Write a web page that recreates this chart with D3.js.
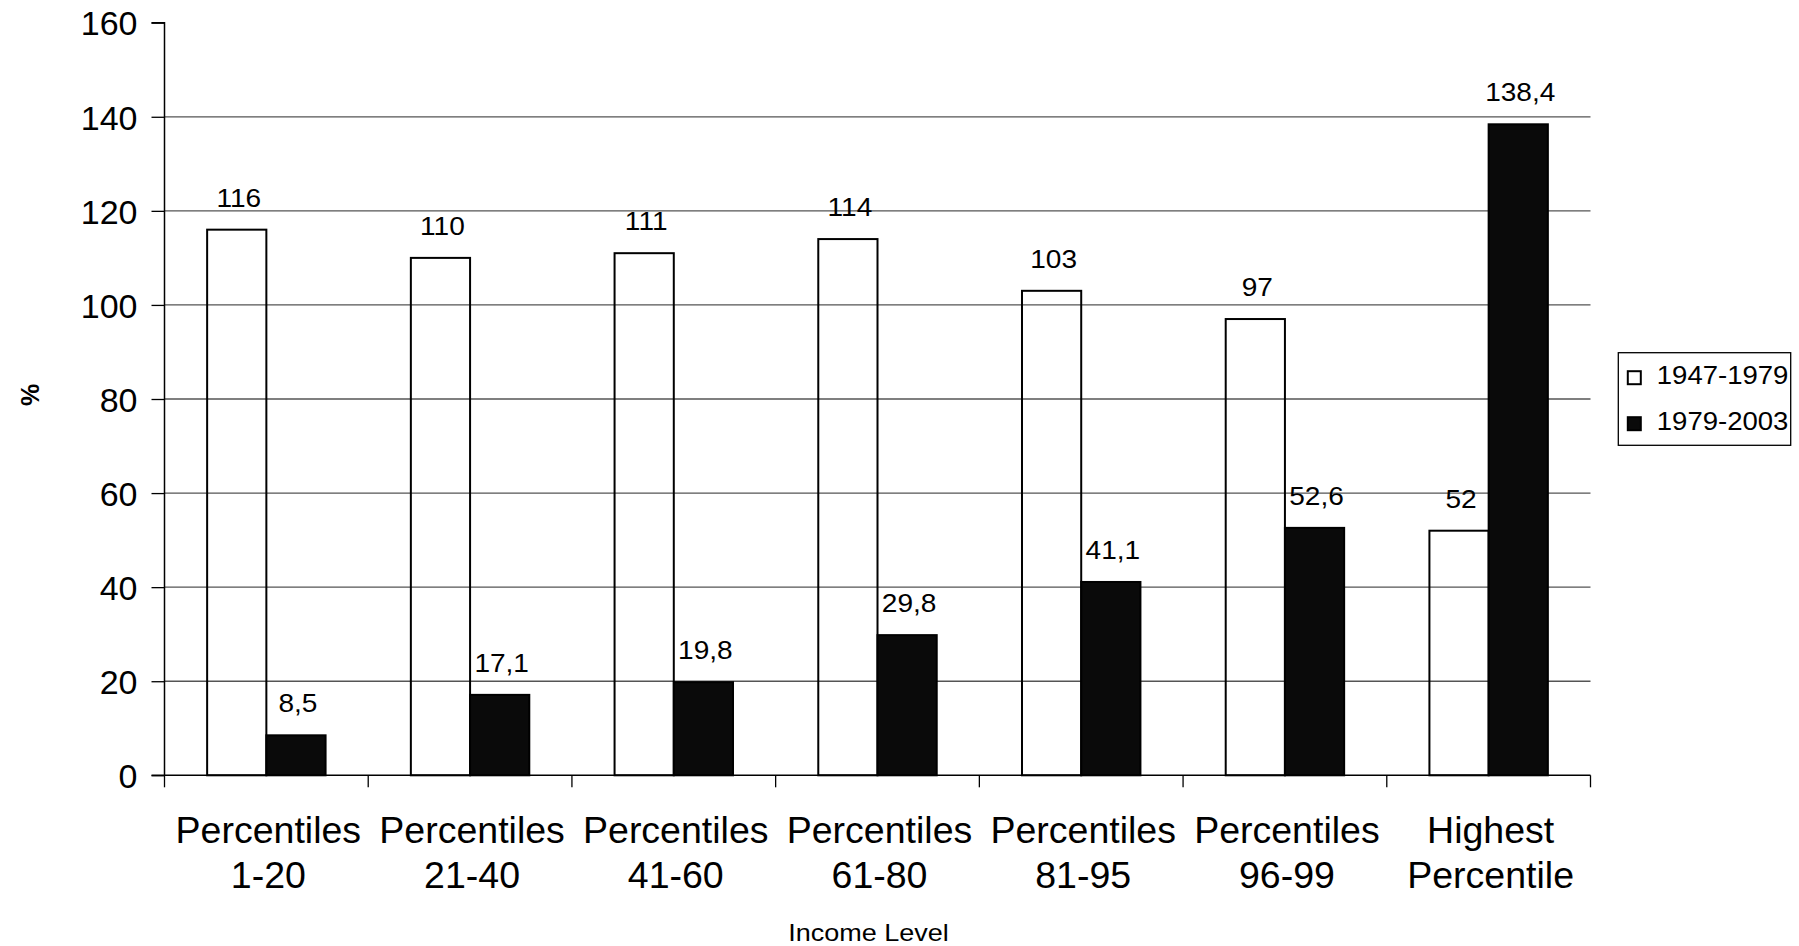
<!DOCTYPE html>
<html><head><meta charset="utf-8">
<script src="https://cdn.jsdelivr.net/npm/d3@7"></script>
<style>
html,body{margin:0;padding:0;background:#fff;}
svg{display:block;font-family:"Liberation Sans",Arial,sans-serif;}
</style></head>
<body><svg id="c" width="1799" height="946"></svg>
<script>
const categories = [["Percentiles","1-20"],["Percentiles","21-40"],["Percentiles","41-60"],["Percentiles","61-80"],["Percentiles","81-95"],["Percentiles","96-99"],["Highest","Percentile"]];
const seriesNames = ["1947-1979","1979-2003"];
const values1947 = [116,110,111,114,103,97,52];
const values1979 = [8.5,17.1,19.8,29.8,41.1,52.6,138.4];
const yTicks = [0,20,40,60,80,100,120,140,160];

const svg = d3.select("#c");
const L = 164.5, R = 1590.5, T = 22.7, B = 775.3;
const keys = categories.map((c,i)=>i);
const x0 = d3.scaleBand().domain(keys).range([L,R]).paddingInner(0).paddingOuter(0);
const x1 = d3.scaleBand().domain(seriesNames).range([0,x0.bandwidth()]).paddingInner(0).paddingOuter(0.72);
const y = d3.scaleLinear().domain([0,160]).range([B,T]);
const fmt = v => String(v).replace(".", ",");

// gridlines
svg.append("g").selectAll("line").data(yTicks.filter(t=>t>0 && t<160)).join("line")
  .attr("x1",L).attr("x2",R).attr("y1",d=>y(d)).attr("y2",d=>y(d))
  .attr("stroke","#555").attr("stroke-width",1.3);

// bars
const data = keys.map(i=>({i, vals:[{s:seriesNames[0],v:values1947[i]},{s:seriesNames[1],v:values1979[i]}]}));
const grp = svg.append("g").selectAll("g").data(data).join("g")
  .attr("transform",d=>`translate(${x0(d.i)},0)`);
grp.selectAll("rect").data(d=>d.vals).join("rect")
  .attr("x",d=>x1(d.s)).attr("width",x1.bandwidth())
  .attr("y",d=>y(d.v)).attr("height",d=>B-y(d.v))
  .attr("fill",d=>d.s===seriesNames[0]?"none":"#0a0a0a")
  .attr("stroke","#000").attr("stroke-width",2);
grp.selectAll("g.lab").data(d=>d.vals).join("g").attr("class","lab")
  .attr("transform",d=>`translate(${x1(d.s)+x1.bandwidth()/2+2},${y(d.v)-23}) scale(1.1,1)`)
  .append("text").attr("text-anchor","middle").attr("font-size",25.5).attr("fill","#000")
  .text(d=>fmt(d.v));

// y axis
const yAxis = d3.axisLeft(y).tickValues(yTicks).tickSize(13).tickPadding(14).tickFormat(d3.format("d"));
const ya = svg.append("g").attr("transform",`translate(${L},0)`).call(yAxis);
ya.select(".domain").attr("stroke","#000").attr("stroke-width",1.5).attr("d",`M-13,${T}H0V${B}`);
ya.selectAll(".tick line").attr("stroke","#000").attr("stroke-width",1.3);
ya.selectAll(".tick text").attr("font-size",34).attr("fill","#000").attr("font-family","Liberation Sans, Arial, sans-serif").attr("dy","0.36em");

// x axis
const xAxis = d3.axisBottom(x0).tickSize(0).tickFormat(()=>"" );
const xa = svg.append("g").attr("transform",`translate(0,${B})`).call(xAxis);
xa.select(".domain").attr("stroke","#000").attr("stroke-width",1.5).attr("d",`M${L-13},0H${R}`);
const tickPos = keys.map(i=>x0(i)).concat([R]);
xa.append("g").selectAll("line").data(tickPos).join("line")
  .attr("x1",d=>d).attr("x2",d=>d).attr("y1",0).attr("y2",12).attr("stroke","#000").attr("stroke-width",1.3);
const cl = xa.append("g").selectAll("text").data(keys).join("text")
  .attr("text-anchor","middle").attr("font-size",37.5).attr("fill","#000")
  .attr("x",d=>x0(d)+x0.bandwidth()/2+2);
cl.append("tspan").attr("x",d=>x0(d)+x0.bandwidth()/2+2).attr("y",68).text(d=>categories[d][0]);
cl.append("tspan").attr("x",d=>x0(d)+x0.bandwidth()/2+2).attr("y",113).text(d=>categories[d][1]);

// axis titles
svg.append("g").attr("transform",`translate(${(L+R)/2-9},940.7) scale(1.15,1)`)
  .append("text").attr("text-anchor","middle").attr("font-size",23.5).attr("fill","#000").text("Income Level");
svg.append("text").attr("transform","translate(39,395) rotate(-90)").attr("text-anchor","middle")
  .attr("font-size",25).attr("font-weight","bold").attr("fill","#000").text("%");

// legend
const lg = svg.append("g").attr("transform","translate(1618.3,352.7)");
lg.append("rect").attr("width",172.4).attr("height",92.6).attr("fill","#fff").attr("stroke","#000").attr("stroke-width",1.3);
const li = lg.selectAll("g.it").data(seriesNames).join("g").attr("class","it")
  .attr("transform",(d,i)=>`translate(0,${i*46})`);
li.append("rect").attr("x",9.5).attr("y",18.5).attr("width",13).attr("height",13)
  .attr("fill",(d,i)=>i===0?"#fff":"#0a0a0a").attr("stroke","#000").attr("stroke-width",2);
li.append("g").attr("transform","translate(38.5,31.6) scale(1.08,1)")
  .append("text").attr("font-size",25.5).attr("fill","#000").text(d=>d);
</script></body></html>
